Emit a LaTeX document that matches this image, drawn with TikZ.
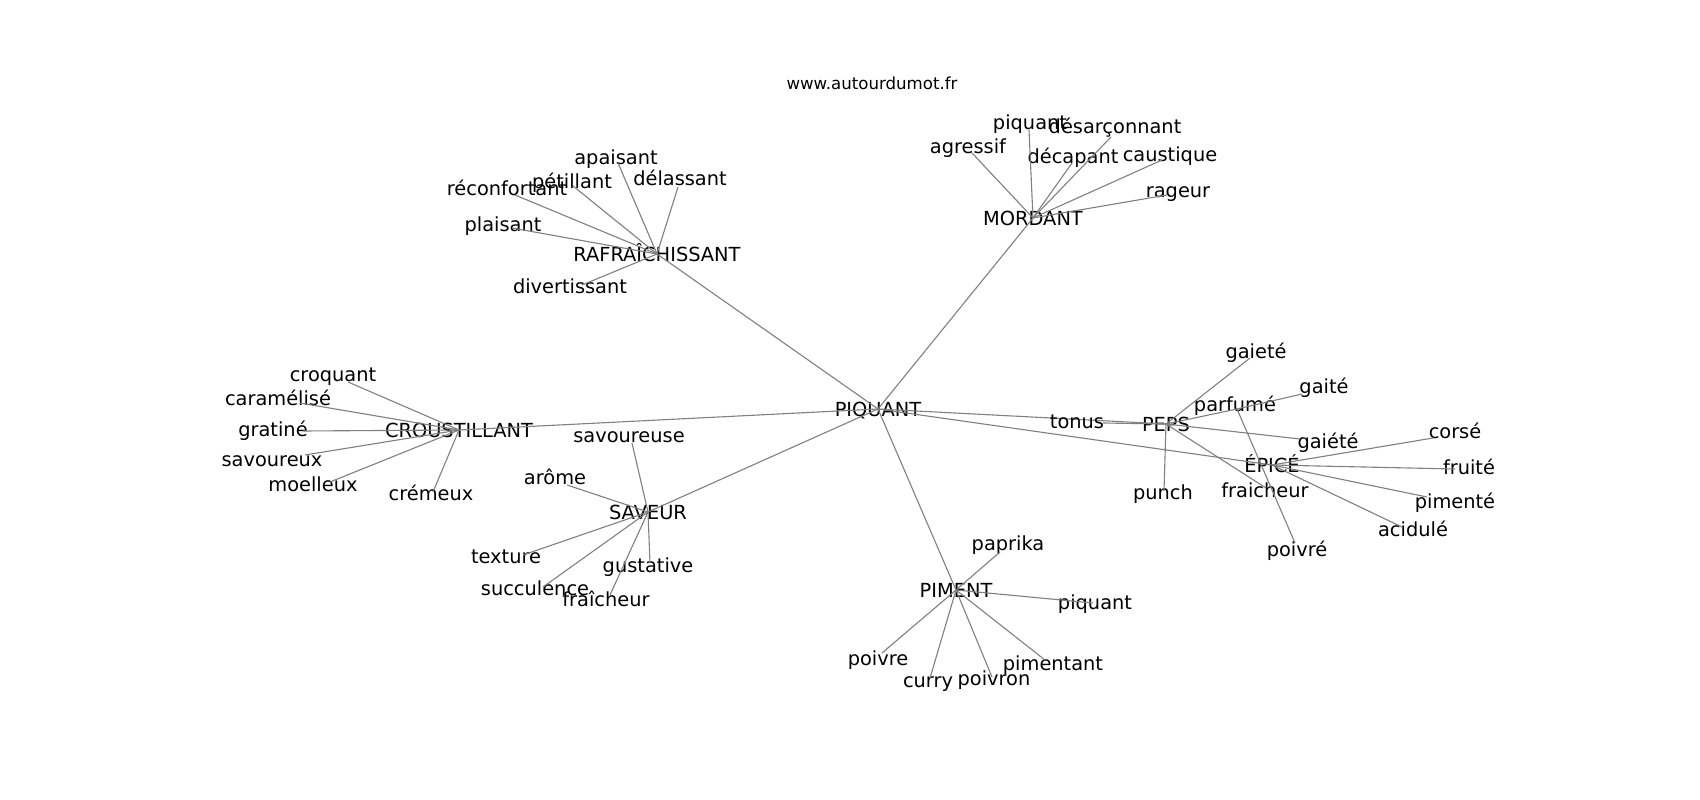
\documentclass[tikz,border=0pt]{standalone}
\usepackage{fontspec}
\setmainfont{DejaVu Sans}
\usetikzlibrary{positioning}
\tikzset{mot/.style={rectangle,inner sep=0pt,font=\fontsize{14}{17}\selectfont,text height=10.5pt,text depth=3pt}}
\tikzset{motcle/.style={mot,text height=10.2pt,text depth=0pt}}
\tikzset{titre/.style={rectangle,inner sep=0pt,font=\fontsize{12}{14}\selectfont}}
\tikzset{toLeaf/.style={draw=gray,line width=0.8pt}}

\begin{document}
\begin{tikzpicture}[x=0.01in,y=-0.01in]
\useasboundingbox (0,0) rectangle (1700,800);
\node (site) [titre] at (872,83) {www.autourdumot.fr};
% centre
\node (piquant) [motcle] at (878,409) {PIQUANT};
\node (rafraichissant) [motcle] at (657,254) {RAFRAÎCHISSANT};
\node (mordant) [motcle] at (1033,218) {MORDANT};
\node (croustillant) [motcle] at (459,430) {CROUSTILLANT};
\node (saveur) [motcle] at (648,512) {SAVEUR};
\node (piment) [motcle] at (956,590) {PIMENT};
\node (peps) [motcle] at (1166,424) {PEPS};
\node (epice) [motcle] at (1272,465) {ÉPICÉ};
\foreach \h in {rafraichissant,mordant,croustillant,saveur,piment,peps,epice}
  \draw [toLeaf] (piquant.center) -- (\h.center);
% rafraichissant
\node (apaisant) [mot] at (616,159) {apaisant};
\node (delassant) [mot] at (680,180) {délassant};
\node (petillant) [mot] at (572,183) {pétillant};
\node (reconfortant) [mot] at (507,190) {réconfortant};
\node (plaisant) [mot] at (503,226) {plaisant};
\node (divertissant) [mot] at (570,288) {divertissant};
\coordinate (apaisant-e) at (618,163) edge [toLeaf] (rafraichissant.center);
\coordinate (delassant-e) at (678,187) edge [toLeaf] (rafraichissant.center);
\coordinate (petillant-e) at (573,186) edge [toLeaf] (rafraichissant.center);
\coordinate (reconfortant-e) at (515,195) edge [toLeaf] (rafraichissant.center);
\coordinate (plaisant-e) at (512,228) edge [toLeaf] (rafraichissant.center);
\coordinate (divertissant-e) at (582,285) edge [toLeaf] (rafraichissant.center);
% mordant
\node (piquantm) [mot] at (1030,124) {piquant};
\node (desarconnant) [mot] at (1115,128) {désarçonnant};
\node (agressif) [mot] at (968,148) {agressif};
\node (decapant) [mot] at (1073,158) {décapant};
\node (caustique) [mot] at (1170,156) {caustique};
\node (rageur) [mot] at (1178,192) {rageur};
\coordinate (piquantm-e) at (1029,130) edge [toLeaf] (mordant.center);
\coordinate (desarconnant-e) at (1111,137) edge [toLeaf] (mordant.center);
\coordinate (agressif-e) at (972,153) edge [toLeaf] (mordant.center);
\coordinate (decapant-e) at (1072,163) edge [toLeaf] (mordant.center);
\coordinate (caustique-e) at (1162,160) edge [toLeaf] (mordant.center);
\coordinate (rageur-e) at (1167,195) edge [toLeaf] (mordant.center);
% croustillant
\node (croquant) [mot] at (333,376) {croquant};
\node (caramelise) [mot] at (278,400) {caramélisé};
\node (gratine) [mot] at (273,431) {gratiné};
\node (savoureux) [mot] at (272,461) {savoureux};
\node (moelleux) [mot] at (313,486) {moelleux};
\node (cremeux) [mot] at (431,495) {crémeux};
\coordinate (croquant-e) at (348,382) edge [toLeaf] (croustillant.center);
\coordinate (caramelise-e) at (300,403) edge [toLeaf] (croustillant.center);
\coordinate (gratine-e) at (303,431) edge [toLeaf] (croustillant.center);
\coordinate (savoureux-e) at (305,455) edge [toLeaf] (croustillant.center);
\coordinate (moelleux-e) at (330,482) edge [toLeaf] (croustillant.center);
\coordinate (cremeux-e) at (433,492) edge [toLeaf] (croustillant.center);
% saveur
\node (savoureuse) [mot] at (629,437) {savoureuse};
\node (arome) [mot] at (555,479) {arôme};
\node (texture) [mot] at (506,558) {texture};
\node (succulence) [mot] at (535,590) {succulence};
\node (fraicheurs) [mot] at (606,601) {fraîcheur};
\node (gustative) [mot] at (648,567) {gustative};
\coordinate (savoureuse-e) at (632,443) edge [toLeaf] (saveur.center);
\coordinate (arome-e) at (567,485) edge [toLeaf] (saveur.center);
\coordinate (texture-e) at (523,555) edge [toLeaf] (saveur.center);
\coordinate (succulence-e) at (543,587) edge [toLeaf] (saveur.center);
\coordinate (fraicheurs-e) at (610,595) edge [toLeaf] (saveur.center);
\coordinate (gustative-e) at (650,563) edge [toLeaf] (saveur.center);
% piment
\node (paprika) [mot] at (1008,545) {paprika};
\node (piquantp) [mot] at (1095,604) {piquant};
\node (poivre) [mot] at (878,660) {poivre};
\node (curry) [mot] at (928,682) {curry};
\node (poivron) [mot] at (994,680) {poivron};
\node (pimentant) [mot] at (1053,665) {pimentant};
\coordinate (paprika-e) at (1000,552) edge [toLeaf] (piment.center);
\coordinate (piquantp-e) at (1093,603) edge [toLeaf] (piment.center);
\coordinate (poivre-e) at (882,653) edge [toLeaf] (piment.center);
\coordinate (curry-e) at (930,678) edge [toLeaf] (piment.center);
\coordinate (poivron-e) at (992,677) edge [toLeaf] (piment.center);
\coordinate (pimentant-e) at (1045,660) edge [toLeaf] (piment.center);
% peps
\node (tonus) [mot] at (1077,423) {tonus};
\node (punch) [mot] at (1163,494) {punch};
\node (gaiete) [mot] at (1256,353) {gaieté};
\node (parfume) [mot] at (1235,406) {parfumé};
\node (gaite) [mot] at (1324,388) {gaité};
\node (gaiete2) [mot] at (1328,443) {gaiété};
\node (fraicheurp) [mot] at (1265,492) {fraicheur};
\node (poivreepice) [mot] at (1297,551) {poivré};
\coordinate (tonus-e) at (1103,423) edge [toLeaf] (peps.center);
\coordinate (punch-e) at (1164,491) edge [toLeaf] (peps.center);
\coordinate (gaiete-e) at (1250,358) edge [toLeaf] (peps.center);
\coordinate (parfume-e) at (1237,409) edge [toLeaf] (peps.center);
\coordinate (gaite-e) at (1302,394) edge [toLeaf] (parfume-e);
\coordinate (gaiete2-e) at (1300,439) edge [toLeaf] (peps.center);
\coordinate (fraicheurp-e) at (1266,488) edge [toLeaf] (peps.center);
\coordinate (poivreepice-e) at (1295,543) edge [toLeaf] (parfume-e);
% epice
\node (corse) [mot] at (1455,433) {corsé};
\node (fruite) [mot] at (1469,469) {fruité};
\node (pimente) [mot] at (1455,503) {pimenté};
\node (acidule) [mot] at (1413,531) {acidulé};
\coordinate (corse-e) at (1433,438) edge [toLeaf] (epice.center);
\coordinate (fruite-e) at (1455,469) edge [toLeaf] (epice.center);
\coordinate (pimente-e) at (1427,497) edge [toLeaf] (epice.center);
\coordinate (acidule-e) at (1402,527) edge [toLeaf] (epice.center);
\end{tikzpicture}
\end{document}
